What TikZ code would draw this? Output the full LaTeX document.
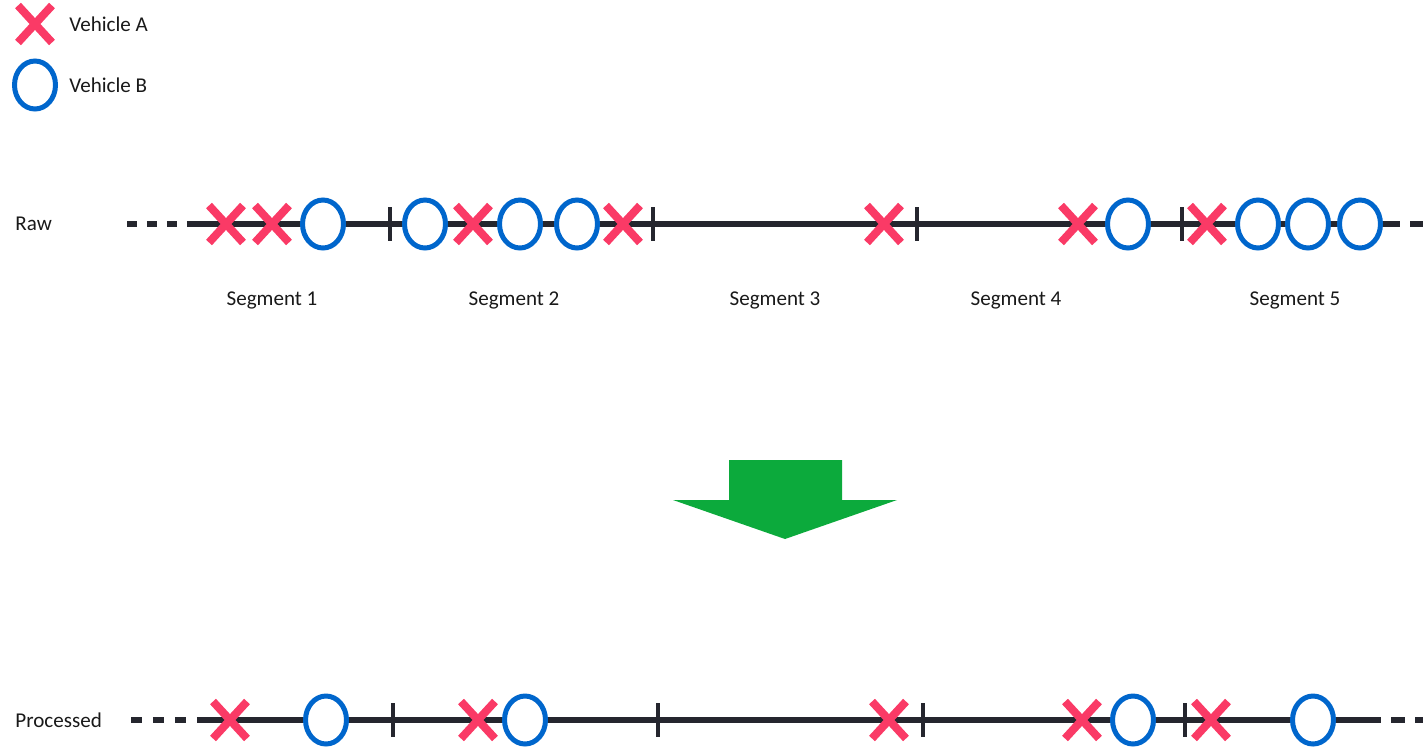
\documentclass[tikz,border=0pt]{standalone}
\usepackage{fontspec}
\setmainfont{Carlito}
\usetikzlibrary{shapes.geometric, shapes.misc}
\definecolor{vehred}{HTML}{FA3A66}
\definecolor{vehblue}{HTML}{0066CC}
\definecolor{roadgrey}{HTML}{25262E}
\definecolor{arrowgreen}{HTML}{0CAA3C}

\begin{document}
\begin{tikzpicture}[x = 0.02cm, y = -0.02cm,
		vehA/.style = {cross out, draw = vehred, line width = 0.16cm, minimum width = 0.68cm, minimum height = 0.74cm, inner sep = 0, outer sep = 0},
		vehB/.style = {ellipse, draw = vehblue, fill = white, line width = 0.1cm, minimum width = 0.82cm, minimum height = 0.96cm, inner sep = 0, outer sep = 0},
		road/.style = {draw = roadgrey, line width = 0.11cm},
		roadend/.style = {road, dash pattern = on 0.28cm off 0.2cm, dash phase = 0.28cm},
		tickmark/.style = {draw = roadgrey, line width = 0.08cm},
		txt/.style = {font = \fontsize{12}{14}\selectfont, text = black!90, inner sep = 0}]
		\def\rawy{224};
		\def\prcy{720};
		\def\tickh{17};
		
		\useasboundingbox (0,0) rectangle (1423,748);
		
		\node [vehA] (legA) at (35,24) {};
		\node [vehB] (legB) at (35,85) {};
		\node [txt, anchor = west] (legAtext) at (69,24) {Vehicle A};
		\node [txt, anchor = west] (legBtext) at (69,85) {Vehicle B};
		
		\node [txt, anchor = west] (rawlabel) at (15,\rawy) {Raw};
		\node [txt, anchor = west] (prclabel) at (15,\prcy) {Processed};
		
		\coordinate (raw-w) at (127,\rawy);
		\coordinate (raw-a) at (192,\rawy);
		\coordinate (raw-b) at (1400,\rawy);
		\coordinate (raw-e) at (1423,\rawy);
		\draw [road, dash pattern = on 0.2cm off 0.2cm] (raw-w) -- (raw-a);
		\draw [road] (raw-a) -- (raw-b);
		\draw [roadend] (raw-b) -- (raw-e);
		
		\coordinate (prc-w) at (131,\prcy);
		\coordinate (prc-a) at (197,\prcy);
		\coordinate (prc-b) at (1381,\prcy);
		\coordinate (prc-e) at (1423,\prcy);
		\draw [road, dash pattern = on 0.22cm off 0.22cm] (prc-w) -- (prc-a);
		\draw [road] (prc-a) -- (prc-b);
		\draw [roadend] (prc-b) -- (prc-e);
		
		\foreach \x in {390, 653, 917, 1182}
			\draw [tickmark] (\x,{\rawy - \tickh}) -- (\x,{\rawy + \tickh});
		\foreach \x in {393, 658, 923, 1185}
			\draw [tickmark] (\x,{\prcy - \tickh}) -- (\x,{\prcy + \tickh});
		
		\foreach \x [count = \i] in {226, 272, 473, 623, 884, 1078, 1207}
			\node [vehA] (rawA\i) at (\x,\rawy) {};
		\foreach \x [count = \i] in {323, 425, 520, 577, 1128, 1258, 1308, 1360}
			\node [vehB] (rawB\i) at (\x,\rawy) {};
		\foreach \x [count = \i] in {230, 478, 889, 1082, 1211}
			\node [vehA] (prcA\i) at (\x,\prcy) {};
		\foreach \x [count = \i] in {326, 525, 1133, 1313}
			\node [vehB] (prcB\i) at (\x,\prcy) {};
		
		\foreach \x/\n in {272/1, 514/2, 775/3, 1016/4, 1295/5}
			\node [txt] (seg\n) at (\x,300) {Segment \n};
		
		\fill [arrowgreen] (729,460) -- (842,460) -- (842,500) -- (897,500) -- (785,539) -- (673,500) -- (729,500) -- cycle;
	\end{tikzpicture}
\end{document}
